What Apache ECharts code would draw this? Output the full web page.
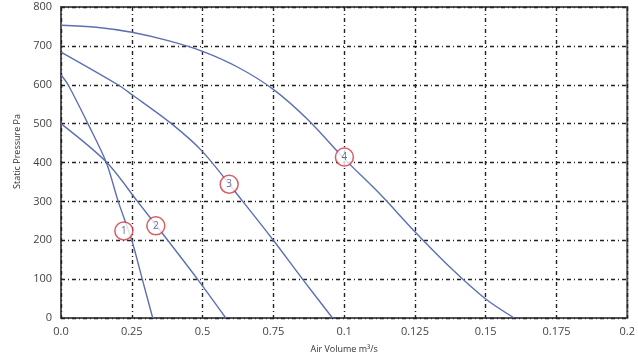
<!DOCTYPE html>
<html>
<head>
<meta charset="utf-8">
<script src="https://cdn.jsdelivr.net/npm/echarts@6/dist/echarts.min.js"></script>
<style>
  html, body { margin: 0; padding: 0; background: #fff; }
  #chart { width: 638px; height: 363px; }
</style>
</head>
<body>
<div id="chart"></div>
<script>
  // x tick labels as printed on the original chart
  const xTickLabels = ['0.0', '0.25', '0.5', '0.75', '0.1', '0.125', '0.15', '0.175', '0.2']

  // fan curves: [air volume m3/s, static pressure Pa]
  const curve1 = [[0, 625], [0.0025, 600], [0.0095, 500], [0.016, 400], [0.0202, 300], [0.025, 200], [0.0287, 100], [0.0324, 0]]
  const curve2 = [[0, 500], [0.0162, 400], [0.027, 300], [0.0377, 200], [0.0482, 100], [0.0582, 0]]
  const curve3 = [[0, 684], [0.0201, 600], [0.025, 575], [0.039, 500], [0.05, 428], [0.0642, 300], [0.075, 200], [0.0853, 100], [0.0959, 0]]
  const curve4 = [[0, 753], [0.0125, 748], [0.025, 735], [0.0375, 714], [0.05, 686], [0.0625, 645], [0.075, 588], [0.0875, 508], [0.1, 410], [0.1125, 320], [0.125, 222], [0.1375, 130], [0.15, 49], [0.1601, 0]]

  // numbered markers
  const markerNames = ['1', '2', '3', '4']
  const markerPoints = [[0.0222, 224], [0.0335, 237], [0.0594, 344], [0.1001, 414]]

  const lineColor = '#5c70b3'
  const curveSeries = [curve1, curve2, curve3, curve4].map(c => ({
    type: 'line',
    data: c,
    smooth: 0.3,
    showSymbol: false,
    lineStyle: { color: lineColor, width: 1.4 },
    z: 3
  }))

  const chart = echarts.init(document.getElementById('chart'))
  chart.setOption({
    animation: false,
    grid: {
      left: 61,
      right: 10,
      top: 7,
      bottom: 45,
      show: true,
      borderColor: '#555',
      borderWidth: 2
    },
    xAxis: {
      type: 'value',
      min: 0,
      max: 0.2,
      interval: 0.025,
      name: 'Air Volume m³/s',
      nameLocation: 'middle',
      nameGap: 27,
      nameTextStyle: { fontSize: 9, color: '#333', fontFamily: 'Open Sans' },
      axisLine: { show: false },
      axisTick: { show: false },
      axisLabel: {
        fontSize: 11,
        color: '#444',
        margin: 8,
        fontFamily: 'Open Sans',
        formatter: v => xTickLabels[Math.round(v / 0.025)]
      },
      splitLine: {
        lineStyle: { color: '#222', width: 1.4, type: [4, 3, 1, 3] }
      }
    },
    yAxis: {
      type: 'value',
      min: 0,
      max: 800,
      interval: 100,
      name: 'Static Pressure Pa',
      nameLocation: 'middle',
      nameGap: 38,
      nameTextStyle: { fontSize: 9, color: '#333', fontFamily: 'Open Sans', padding: [0, 0, 0, 22] },
      axisLine: { show: false },
      axisTick: { show: false },
      axisLabel: { fontSize: 11, color: '#444', margin: 9, fontFamily: 'Open Sans' },
      splitLine: {
        lineStyle: { color: '#222', width: 1.4, type: [4, 3, 1, 3] }
      }
    },
    series: curveSeries.concat([{
      type: 'scatter',
      data: markerPoints.map((p, i) => ({ value: p, name: markerNames[i] })),
      symbol: 'circle',
      symbolSize: 18,
      itemStyle: { color: '#fff', borderColor: '#d0343c', borderWidth: 1.5 },
      label: {
        show: true,
        position: 'inside',
        formatter: p => p.name,
        fontSize: 10,
        color: '#3a4a7a',
        fontFamily: 'Open Sans'
      },
      z: 5
    }])
  })
</script>
</body>
</html>
